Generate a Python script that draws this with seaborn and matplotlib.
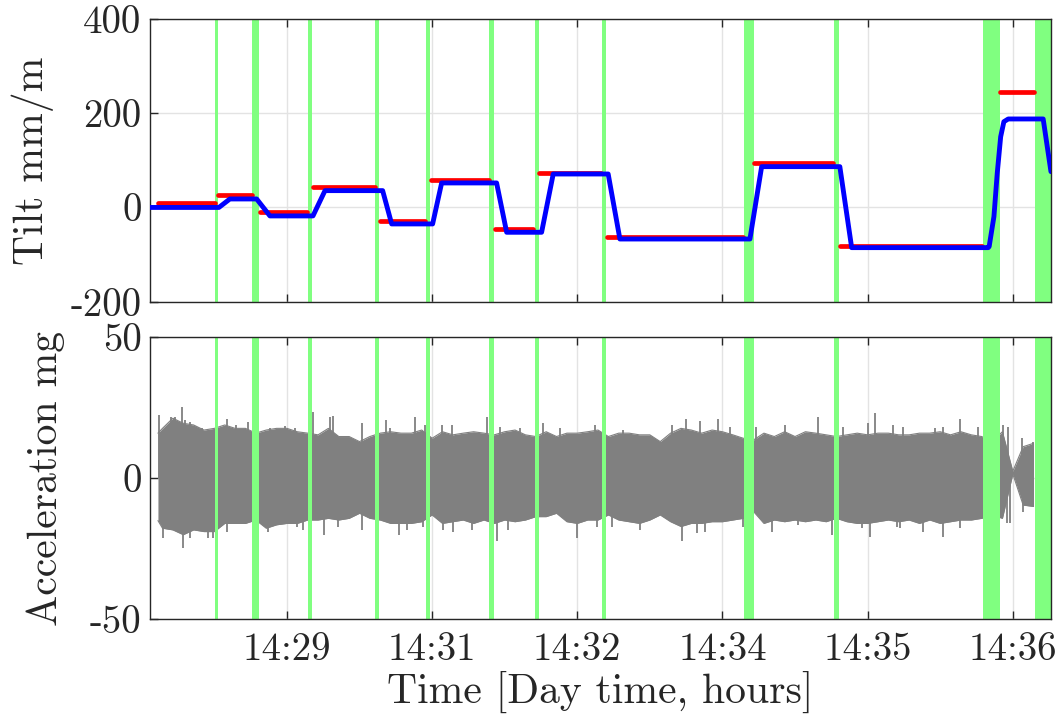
import numpy as np
import pandas as pd
import matplotlib
matplotlib.use("Agg")
import matplotlib.pyplot as plt
import seaborn as sns

# ---------------- data (time in minutes after 14:00) ----------------
x_tick_pos = [29.4, 30.8, 32.2, 33.6, 35.0, 36.4]
x_tick_labels = ["14:29", "14:31", "14:32", "14:34", "14:35", "14:36"]
x_limits = [28.079, 36.768]

tilt_ticks = [-200, 0, 200, 400]
acc_ticks = [-50, 0, 50]

# green marker bands (start, end)
band_start = [28.709, 29.063, 29.605, 30.252, 30.741, 31.351, 31.789, 32.435, 33.812, 34.675, 36.115, 36.613]
band_end = [28.735, 29.130, 29.638, 30.287, 30.780, 31.396, 31.827, 32.476, 33.904, 34.723, 36.276, 36.777]

# red: measured tilt levels (segment start, end, level)
red_start = [28.156, 28.735, 29.140, 29.648, 30.297, 30.789, 31.406, 31.833, 32.483, 33.904, 34.733, 36.276]
red_end = [28.706, 29.060, 29.590, 30.249, 30.731, 31.351, 31.775, 32.428, 33.800, 34.668, 36.099, 36.607]
red_level = [9, 26.5, -9, 44, -28, 58.4, -46, 74, -62, 95, -82, 246]

# blue: filtered tilt (breakpoints)
blue_t = [28.079, 28.744, 28.850, 29.108, 29.236, 29.651, 29.767, 30.323, 30.410, 30.805, 30.892,
          31.422, 31.519, 31.856, 31.968, 32.498, 32.611, 33.865, 33.978, 34.732, 34.846, 36.163,
          36.172, 36.218, 36.250, 36.283, 36.314, 36.356, 36.693, 36.768]
blue_v = [0, 0, 18, 18, -18, -18, 35.7, 35.7, -35, -35, 52,
          52, -52.7, -52.7, 71, 71, -67, -67, 86.6, 86.6, -85.3, -85.3,
          -83, -19.5, 72.6, 150, 182, 187.8, 187.8, 76]

# acceleration envelope (read every 0.1 min)
acc_t = [28.156] + list(np.round(np.arange(28.2, 36.65, 0.1), 2))
acc_upper = [16.0, 17.7, 21.3, 19.5, 18.9, 17.1, 17.7, 18.9, 17.7, 17.7, 16.0, 17.1, 17.7, 17.7, 16.5,
             16.0, 15.4, 17.7, 14.8, 14.8, 13.0, 14.8, 16.0, 16.5, 16.0, 16.0, 17.1, 14.2, 16.5,
             15.4, 16.0, 16.5, 16.0, 15.4, 16.5, 17.1, 15.4, 14.8, 16.5, 14.8, 16.0, 16.0, 16.5,
             17.1, 14.8, 16.0, 16.0, 15.4, 15.4, 13.0, 16.0, 17.7, 17.1, 16.0, 17.1, 16.5, 15.4,
             14.2, 13.6, 16.0, 14.8, 16.5, 14.8, 16.5, 16.0, 15.4, 14.8, 15.4, 16.0, 15.4, 16.0,
             16.0, 15.4, 15.4, 16.0, 16.0, 16.5, 15.4, 16.5, 15.4, 14.8, 13.0, 16.5, 2.5, 11.2, 12.4]
acc_lower = [-15.0, -17.7, -18.3, -20.0, -18.3, -18.9, -18.9, -16.0, -16.0, -16.0, -14.8, -17.7, -16.5, -16.0, -16.0,
             -14.8, -14.8, -14.2, -14.8, -14.2, -12.4, -14.2, -14.8, -16.0, -16.0, -16.0, -15.4, -13.0, -16.0,
             -15.4, -14.8, -16.0, -14.8, -16.0, -14.8, -15.4, -14.8, -13.6, -13.6, -12.4, -15.4, -16.0, -14.8,
             -14.8, -13.0, -14.8, -15.4, -16.0, -14.8, -13.0, -15.4, -17.1, -16.0, -16.0, -15.4, -15.4, -14.8,
             -14.2, -11.8, -16.0, -14.8, -15.4, -14.8, -15.4, -14.8, -15.4, -14.2, -15.4, -16.0, -16.0, -15.4,
             -14.8, -15.4, -14.8, -16.0, -14.8, -16.0, -15.4, -14.8, -14.8, -14.2, -13.0, -14.2, 1.5, -9.5, -10.0]

# prominent acceleration spikes (time, peak value)
spike_up_t = [28.166, 28.279, 28.320, 28.385, 28.417, 28.465, 28.578, 28.819, 28.908, 29.021, 29.236, 29.381,
              29.477, 29.654, 29.815, 29.847, 30.120, 30.355, 30.393, 30.634, 30.731, 30.892, 30.988, 31.326,
              31.454, 31.647, 31.872, 32.033, 32.370, 32.643, 33.110, 33.248, 33.383, 33.559, 33.672, 33.923,
              34.202, 34.524, 34.765, 35.006, 35.070, 35.247, 35.343, 35.649, 35.729, 35.890, 36.066, 36.308,
              36.356, 36.485, 36.591]
spike_up_v = [22.5, 21.9, 21.9, 25.4, 20.7, 20.1, 17.7, 21.0, 18.9, 20.1, 17.7, 18.7,
              17.7, 23.4, 21.9, 22.2, 19.5, 20.7, 17.7, 21.9, 18.9, 18.9, 18.9, 21.9,
              18.3, 17.7, 19.5, 17.7, 18.9, 17.1, 18.9, 21.0, 20.3, 21.0, 18.3, 18.3,
              18.9, 21.9, 18.3, 19.5, 23.0, 18.9, 18.3, 17.7, 18.3, 21.0, 18.3, 18.9,
              18.3, 14.2, 13.0]
spike_dn_t = [28.207, 28.400, 28.465, 28.641, 28.687, 28.819, 29.217, 29.494, 29.557, 29.760, 29.895, 30.120,
              30.480, 30.554, 30.714, 30.907, 31.004, 31.181, 31.422, 31.534, 32.194, 32.386, 32.531, 32.804,
              33.206, 33.351, 33.431, 33.800, 34.074, 34.331, 34.653, 34.942, 35.022, 35.279, 35.311, 35.536,
              35.729, 35.890, 36.340, 36.372, 36.500]
spike_dn_v = [-21.3, -24.6, -21.3, -21.3, -21.3, -18.9, -18.9, -17.1, -18.3, -20.1, -17.1, -18.3,
              -20.1, -18.3, -17.1, -18.3, -18.9, -18.3, -22.1, -18.3, -21.3, -17.1, -17.1, -18.3,
              -22.1, -19.5, -18.9, -17.1, -18.9, -16.5, -20.1, -17.7, -20.7, -17.1, -17.7, -18.9,
              -20.7, -17.7, -16.0, -15.7, -11.8]

# ---------------- styling ----------------
sns.set_style("white")
plt.rcParams["font.family"] = ["cmr10", "DejaVu Serif"]
plt.rcParams["axes.formatter.use_mathtext"] = True

GREEN = "#80ff80"
GRAY = "#808080"
SPINE = "#262626"
FS_LAB = 30
FS_TICK = 28

fig = plt.figure(figsize=(10.62, 7.25), dpi=100)
ax1 = fig.add_axes([0.1412, 0.5839, 0.8484, 0.3899])
ax2 = fig.add_axes([0.1412, 0.1458, 0.8484, 0.3890])

for ax in (ax1, ax2):
    ax.set_xlim(*x_limits)
    ax.set_xticks(x_tick_pos)
    ax.grid(True, color="#e3e3e3", lw=1.0)
    ax.set_axisbelow(True)
    for s in ax.spines.values():
        s.set_color(SPINE)
        s.set_linewidth(1.0)
        s.set_visible(True)
    ax.tick_params(direction="in", length=6, width=1, color=SPINE, top=True, bottom=True,
                   left=True, right=False, labelsize=FS_TICK, labelcolor="#262626")
    ax.tick_params(axis="x", pad=9)
    ax.tick_params(axis="y", pad=6)
    for s, e in zip(band_start, band_end):
        ax.axvspan(s, e, color=GREEN, lw=0, zorder=2)

# top panel
ax1.set_ylim(-200, 400)
ax1.set_yticks(tilt_ticks)
ax1.set_yticklabels([str(v) for v in tilt_ticks])
ax1.set_xticklabels([])

red_df = pd.DataFrame({
    "t": [v for s, e in zip(red_start, red_end) for v in (s, e)],
    "v": [v for lv in red_level for v in (lv, lv)],
    "seg": [i for i in range(len(red_level)) for _ in (0, 1)],
})
sns.lineplot(data=red_df, x="t", y="v", units="seg", estimator=None, color="red",
             lw=3.4, ax=ax1, zorder=3, legend=False)
sns.lineplot(x=blue_t, y=blue_v, color="blue", lw=3.5, sort=False, estimator=None,
             ax=ax1, zorder=4, solid_joinstyle="round")
ax1.set_ylabel("Tilt mm/m", fontsize=FS_LAB, color="#262626")
ax1.set_xlabel("")
ax1.yaxis.set_label_coords(-0.107, 0.5)

# bottom panel
ax2.set_ylim(-50, 50)
ax2.set_yticks(acc_ticks)
ax2.set_yticklabels([str(v) for v in acc_ticks])
ax2.set_xticklabels(x_tick_labels)
ax2.fill_between(acc_t, acc_lower, acc_upper, color=GRAY, lw=0, zorder=1.5)
sns.lineplot(x=acc_t, y=acc_upper, color=GRAY, lw=0.8, ax=ax2, zorder=1.5)
sns.lineplot(x=acc_t, y=acc_lower, color=GRAY, lw=0.8, ax=ax2, zorder=1.5)
ax2.vlines(spike_up_t, 0, spike_up_v, color=GRAY, lw=1.3, zorder=1.5)
ax2.vlines(spike_dn_t, 0, spike_dn_v, color=GRAY, lw=1.3, zorder=1.5)
ax2.set_ylabel("Acceleration mg", fontsize=FS_LAB, color="#262626")
ax2.yaxis.set_label_coords(-0.094, 0.5)
ax2.set_xlabel("Time [Day time, hours]", fontsize=FS_LAB, color="#262626", labelpad=2)

fig.savefig("out.png", dpi=100)
